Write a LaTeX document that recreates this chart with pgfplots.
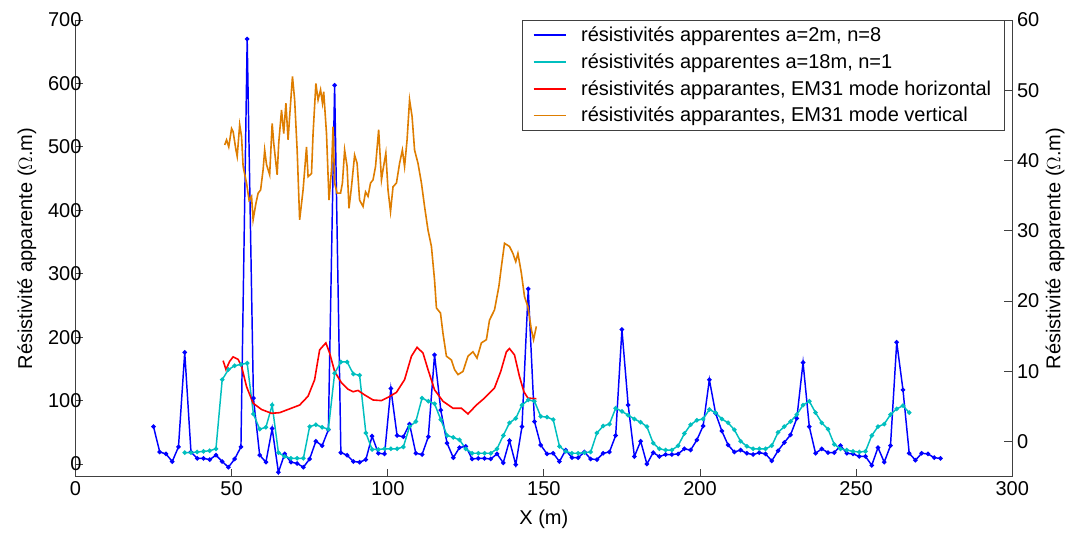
\documentclass[border=0pt]{standalone}
\usepackage{fontspec}
\setmainfont{Liberation Sans}
\usepackage{pgfplots}
\pgfplotsset{compat=1.18}

\definecolor{cyanm}{RGB}{0,191,191}
\definecolor{orangem}{RGB}{222,125,0}
\newcommand{\ff}{\fontsize{15}{18}\selectfont}

\begin{document}
\begin{tikzpicture}

\pgfplotsset{
  every axis/.append style={
    width=703pt, height=342.75pt, scale only axis,
    xmin=0, xmax=300,
    tick align=inside,
    major tick length=6pt,
    axis line style={black!75, line width=0.9pt},
    tick style={black!75, line width=0.7pt},
    tick label style={font=\ff},
    label style={font=\ff},
    /pgf/number format/assume math mode=true,
  },
}

\begin{axis}[
  name=main,
  axis x line*=bottom,
  axis y line*=left,
  ymin=-20, ymax=700,
  xtick={0,50,...,300},
  ytick={0,100,...,700},
  yticklabel style={xshift=8pt},
  xlabel={X (m)},
  ylabel={Résistivité apparente ($\Omega$.m)},
  ylabel style={yshift=2pt},
  xlabel style={yshift=-4pt},
  legend cell align=left,
  legend style={at={(0.992,1)}, anchor=north east, draw=black!75,
    font=\ff, row sep=3.5pt, inner xsep=8pt, inner ysep=3pt,
    /tikz/every odd column/.append style={column sep=9pt}},
  legend image code/.code={\draw[#1,mark=none,line width=1.3pt] (0pt,0pt) -- (24pt,0pt);},
]

% a=2m, n=8
\addplot[blue, line width=1.1pt, mark=*, mark size=1.1pt] coordinates {
(25,59) (27,19) (29,16) (31,4) (33,27) (35,176) (37,19) (39,9) (41,9) (43,7)
(45,14) (47,4) (49,-5) (51,8) (53,27) (55,670) (57,104) (59,14) (61,3) (63,56)
(65,-13) (67,16) (69,3) (71,1) (73,-5) (75,8) (77,36) (79,29) (81,54) (83,597)
(85,18) (87,14) (89,4) (91,3) (93,7) (95,44) (97,17) (99,16) (101,119) (103,45)
(105,43) (107,63) (109,17) (111,15) (113,43) (115,172) (117,85) (119,33) (121,10) (123,26)
(125,28) (127,8) (129,9) (131,9) (133,8) (135,16) (137,2) (139,37) (141,-1) (143,59)
(145,276) (147,67) (149,30) (151,16) (153,17) (155,4) (157,22) (159,10) (161,10) (163,19)
(165,8) (167,7) (169,17) (171,19) (173,45) (175,212) (177,93) (179,12) (181,36) (183,0)
(185,18) (187,12) (189,15) (191,15) (193,16) (195,24) (197,22) (199,38) (201,60) (203,133)
(205,80) (207,52) (209,30) (211,19) (213,22) (215,17) (217,15) (219,18) (221,16) (223,5)
(225,21) (227,34) (229,46) (231,72) (233,160) (235,59) (237,17) (239,24) (241,18) (243,18)
(245,29) (247,17) (249,16) (251,12) (253,12) (255,-2) (257,26) (259,3) (261,29) (263,192)
(265,117) (267,17) (269,6) (271,17) (273,16) (275,10) (277,9)
};
\addlegendentry{résistivités apparentes a=2m, n=8}

% a=18m, n=1
\addplot[cyanm, line width=1.1pt, mark=*, mark size=1.1pt] coordinates {
(35,18) (37,18) (39,19) (41,20) (43,21) (45,24) (47,133) (49,149) (51,155) (53,157)
(55,159) (57,79) (59,55) (61,58) (63,93) (65,18) (67,12) (69,9) (71,9) (73,9)
(75,59) (77,62) (79,58) (81,55) (83,143) (85,161) (87,161) (89,142) (91,140) (93,49)
(95,23) (97,23) (99,24) (101,24) (103,24) (105,27) (107,59) (109,67) (111,104) (113,99)
(115,95) (117,70) (119,45) (121,42) (123,38) (125,24) (127,17) (129,17) (131,17) (133,17)
(135,24) (137,45) (139,65) (141,72) (143,93) (145,101) (147,99) (149,75) (151,74) (153,70)
(155,28) (157,20) (159,17) (161,17) (163,18) (165,19) (167,49) (169,60) (171,63) (173,88)
(175,83) (177,77) (179,71) (181,66) (183,59) (185,33) (187,24) (189,22) (191,22) (193,29)
(195,48) (197,62) (199,69) (201,71) (203,86) (205,81) (207,71) (209,65) (211,54) (213,36)
(215,28) (217,24) (219,24) (221,24) (223,29) (225,50) (227,59) (229,67) (231,78) (233,93)
(235,99) (237,81) (239,65) (241,55) (243,31) (245,24) (247,22) (249,20) (251,19) (253,20)
(255,45) (257,59) (259,63) (261,78) (263,87) (265,92) (267,81)
};
\addlegendentry{résistivités apparentes a=18m, n=1}

% EM31 horizontal
\addplot[red, line width=1.2pt] coordinates {
(47.3,163) (48.2,149) (49.4,162) (50.5,169) (52.1,165) (53.2,154) (54.8,122) (56.9,96)
(59.6,86) (62.8,80) (65.4,81) (68.6,87) (71.8,93) (74.5,107) (76.6,133) (78.2,180)
(80.2,191) (81.4,175) (83.0,146) (85.2,128) (87.3,118) (88.9,114) (90.5,116) (92.6,109)
(95.3,101) (98.0,100) (100.4,106) (102.8,113) (105.4,133) (107.6,170) (109.4,184) (111.3,175)
(112.9,149) (115.0,117) (117.7,99) (120.9,88) (123.6,88) (125.7,79) (128.4,93) (131.0,104)
(134.2,120) (136.2,146) (138.0,177) (139.0,182) (140.6,172) (142.2,138) (143.6,114) (144.9,104)
(147.6,103)
};
\addlegendentry{résistivités apparantes, EM31 mode horizontal}

% EM31 vertical
\addplot[orangem, line width=1.2pt] coordinates {
(47.8,503) (48.4,511) (49.1,500) (50.0,529) (50.5,524) (51.4,495) (51.8,485) (52.6,535)
(53.2,516) (53.7,469) (54.8,443) (55.6,416) (56.4,422) (56.9,385) (57.8,411) (58.5,427)
(59.3,432) (60.1,464) (60.6,495) (61.2,472) (62.2,456) (63.0,537) (63.5,506) (64.6,456)
(65.1,506) (66.0,558) (66.7,521) (67.4,569) (68.1,511) (68.6,548) (69.5,611) (70.2,574)
(71.0,495) (71.8,385) (72.9,432) (74.0,500) (74.5,453) (75.6,458) (76.1,521) (77.0,600)
(77.7,574) (78.5,590) (79.1,569) (79.5,587) (80.4,521) (81.2,416) (82.0,464) (82.5,532)
(83.0,443) (83.8,427) (84.9,427) (85.5,443) (86.2,495) (87.0,469) (87.6,403) (88.4,437)
(89.4,487) (90.2,474) (91.0,416) (92.1,406) (92.9,429) (93.7,422) (94.5,443) (95.3,448)
(96.1,469) (97.1,527) (98.0,448) (98.5,464) (99.4,490) (100.1,432) (100.9,398) (101.7,437)
(102.8,443) (103.8,474) (104.7,495) (105.4,469) (106.2,511) (107.0,574) (107.8,548) (108.6,495)
(109.7,474) (110.8,443) (111.8,406) (112.9,369) (114.0,343) (115.0,290) (115.6,246) (116.9,238)
(117.7,206) (118.8,170) (120.4,164) (121.4,149) (122.5,141) (124.1,146) (125.7,170) (127.3,177)
(128.6,167) (130.0,191) (131.6,196) (132.6,227) (134.2,243) (135.6,280) (136.4,311) (137.4,348)
(139.0,343) (140.1,332) (141.0,319) (141.7,332) (142.8,301) (143.8,264) (144.9,248) (146.0,212)
(146.7,196) (147.6,217)
};
\addlegendentry{résistivités apparantes, EM31 mode vertical}
\end{axis}

\begin{axis}[
  axis x line=none,
  axis y line*=right,
  ymin=-5, ymax=60,
  ytick={0,10,...,60},
  ylabel={Résistivité apparente ($\Omega$.m)},
  ylabel shift=-2pt,
]
\end{axis}

\path ([xshift=-56.6pt,yshift=-39.75pt]main.south west) rectangle ([xshift=42pt,yshift=15pt]main.north east);
\end{tikzpicture}
\end{document}
